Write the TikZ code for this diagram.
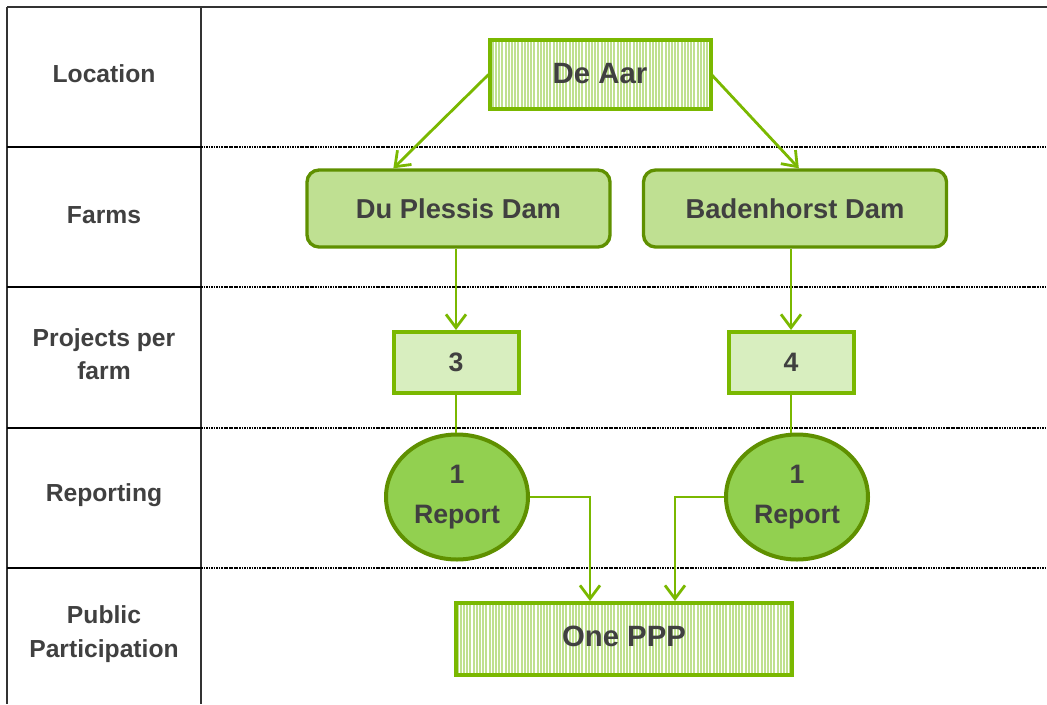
\documentclass[tikz,border=0pt]{standalone}
\usepackage{fontspec}
\setmainfont{Liberation Sans}
\usetikzlibrary{arrows.meta,shapes.geometric,calc,patterns.meta}
\definecolor{txt}{HTML}{404040}
\definecolor{gbright}{HTML}{7AB800}
\definecolor{gdark}{HTML}{5F9000}
\definecolor{gfill}{HTML}{92D050}
\definecolor{gstripe}{HTML}{BFE08F}
\definecolor{gdot}{HTML}{BFE092}
\definecolor{gcross}{HTML}{D8EEBF}
\definecolor{rule}{HTML}{333333}
\begin{document}
\begin{tikzpicture}[x=0.75pt,y=-0.75pt,
  every node/.style={font=\bfseries, text=txt, align=center, inner sep=0pt},
  rowlabel/.style={font=\fontsize{18.5}{25}\selectfont\bfseries},
  stripebox/.style={rectangle, draw=gbright, line width=3pt,
     preaction={fill=white},
     pattern={Lines[angle=90,distance=2.4pt,line width=1.4pt]}, pattern color=gstripe,
     font=\fontsize{22}{26}\selectfont\bfseries},
  farmbox/.style={rectangle, rounded corners=9pt, draw=gdark, line width=2.5pt,
     fill=gdot, minimum width={303*0.75pt}, minimum height={77*0.75pt},
     font=\fontsize{20.5}{24}\selectfont\bfseries},
  countbox/.style={rectangle, draw=gbright, line width=3pt, fill=gcross,
     minimum width={125*0.75pt}, minimum height={61*0.75pt},
     font=\fontsize{20}{24}\selectfont\bfseries},
  repell/.style={ellipse, draw=gdark, line width=3pt, fill=gfill,
     minimum width={142*0.75pt}, minimum height={125*0.75pt},
     font=\fontsize{20}{30}\selectfont\bfseries},
  conn/.style={draw=gbright, line width=2.1pt},
  arr/.style={conn, -{Straight Barb[length=10pt,width=15pt,line width=2.1pt]}},
  solidrule/.style={draw=black, line width=1.3pt},
  dotrule/.style={draw=black, line width=1pt, dash pattern=on 1.3pt off 0.6pt},
  frame/.style={draw=rule, line width=1pt}
]
\useasboundingbox (0,0) rectangle (1047,704);

% table frame
\draw[frame] (7,7) -- (1047,7);
\draw[frame] (7,7) -- (7,704);
\draw[frame] (201,7) -- (201,704);
\foreach \y in {147,287,428,568}{
  \draw[solidrule] (7,\y) -- (201,\y);
  \draw[dotrule] (201,\y) -- (1047,\y);
}

% row labels
\node[rowlabel] (lloc) at (104,74) {Location};
\node[rowlabel] (lfarm) at (104,215) {Farms};
\node[rowlabel] (lproj) at (104,354) {Projects per\\farm};
\node[rowlabel] (lrep) at (104,495) {Reporting};
\node[rowlabel] (lppp) at (104,634) {Public\\Participation};

% nodes
\node[stripebox, minimum width={221*0.75pt}, minimum height={69*0.75pt}] (deaar) at (600,74.5) {\raisebox{2pt}{De Aar}};
\node[farmbox] (dup) at (458.5,208.5) {Du Plessis Dam};
\node[farmbox] (bad) at (795,208.5) {Badenhorst Dam};
\node[countbox] (three) at (456,362.5) {3};
\node[countbox] (four) at (791,362.5) {4};
\node[repell] (rep1) at (457,497) {1\\Report};
\node[repell] (rep2) at (797,497) {1\\Report};
\node[stripebox, minimum width={336*0.75pt}, minimum height={72*0.75pt}] (ppp) at (624,639) {\raisebox{3.5pt}{One PPP}};

% connectors
\draw[arr] (deaar.west) -- ($(dup.north west)+(88,0)$);
\draw[arr] (deaar.east) -- ($(bad.north west)+(157,0)$);
\draw[arr] (dup.south -| three.north) -- (three.north);
\draw[arr] (bad.south -| four.north) -- (four.north);
\draw[conn] (three.south) -- (three.south |- rep1.north);
\draw[conn] (four.south) -- (four.south |- rep2.north);
\draw[arr] (rep1.east) -| ($(ppp.north west)+(136,0)$);
\draw[arr] (rep2.west) -| ($(ppp.north west)+(221,0)$);
\end{tikzpicture}
\end{document}
